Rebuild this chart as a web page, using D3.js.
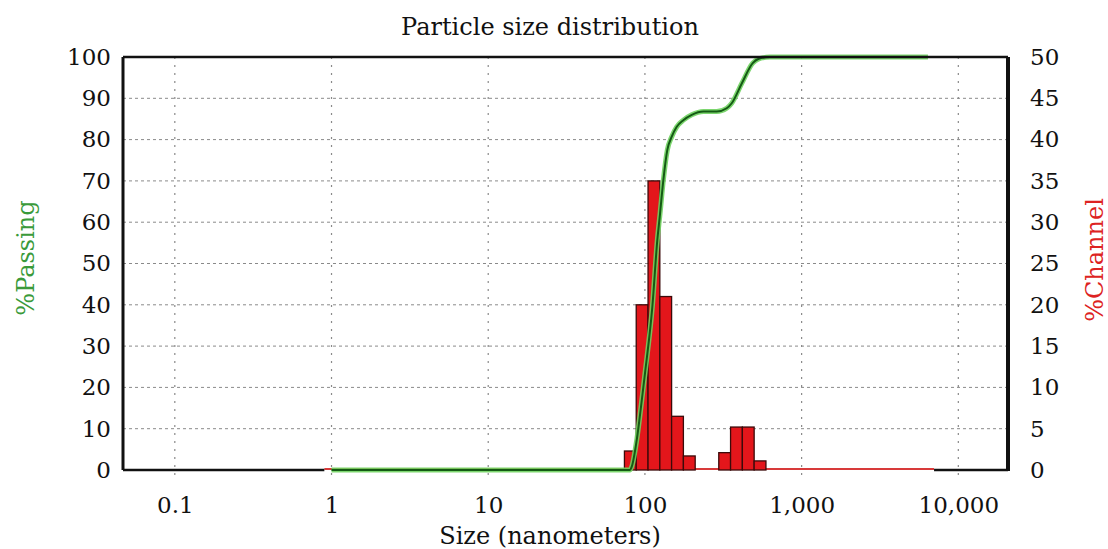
<!DOCTYPE html>
<html>
<head>
<meta charset="utf-8">
<script src="https://d3js.org/d3.v7.min.js"></script>
<style>
  body { margin: 0; background: #fff; }
  text { font-family: "DejaVu Serif", "Liberation Serif", serif; }
</style>
</head>
<body>
<script>
// channel edges (nm), Microtrac-style quarter-root-2 spacing
const binLo = [74.0, 88.0, 104.7, 124.5, 148.0, 176.0, 296.0, 352.0, 418.6, 497.8];
const binHi = [88.0, 104.7, 124.5, 148.0, 176.0, 209.3, 352.0, 418.6, 497.8, 592.0];
const channel = [2.3, 20.0, 35.0, 21.0, 6.5, 1.7, 2.1, 5.2, 5.2, 1.1];

// cumulative % passing
const passSize = [1.0, 80, 82.4, 88.7, 94.4, 100.1, 111.5, 120, 124.9, 131.1, 139, 148.3, 159.6,
                  175.8, 199, 236, 287, 332.5, 358, 415, 487.5, 529, 628, 6400];
const passing  = [0, 0, 0.8, 7.3, 15.3, 23.4, 39.5, 55.7, 62.1, 70.2, 77.5, 80.7, 83.1,
                  84.7, 86, 86.8, 86.8, 87.6, 88.8, 93.6, 98.5, 99.5, 100, 100];

const xTicks = [0.1, 1, 10, 100, 1000, 10000];
const leftTicks = d3.range(0, 101, 10);
const rightTicks = d3.range(0, 51, 5);

const width = 1108, height = 549;
const m = {left: 123, right: 100, top: 57, bottom: 79};

const svg = d3.select("body").append("svg")
    .attr("width", width)
    .attr("height", height);

const x = d3.scaleLog().domain([0.0467, 20750]).range([m.left, width - m.right]);
const yL = d3.scaleLinear().domain([0, 100]).range([height - m.bottom, m.top]);
const yR = d3.scaleLinear().domain([0, 50]).range([height - m.bottom, m.top]);

// grid
svg.append("g").selectAll("line")
    .data(leftTicks.slice(1, -1))
    .join("line")
    .attr("x1", m.left).attr("x2", width - m.right)
    .attr("y1", d => yL(d)).attr("y2", d => yL(d))
    .attr("stroke", "#8a8a8a").attr("stroke-width", 1)
    .attr("stroke-dasharray", "3,3");
svg.append("g").selectAll("line")
    .data(xTicks)
    .join("line")
    .attr("x1", d => x(d)).attr("x2", d => x(d))
    .attr("y1", m.top).attr("y2", height - m.bottom + 8)
    .attr("stroke", "#8a8a8a").attr("stroke-width", 1.2)
    .attr("stroke-dasharray", "2,6");

// channel zero baseline
svg.append("line")
    .attr("x1", x(0.9)).attr("x2", x(7000))
    .attr("y1", yR(0) - 1).attr("y2", yR(0) - 1)
    .attr("stroke", "#d83a3a").attr("stroke-width", 2);

// bars
svg.append("g").selectAll("rect")
    .data(channel)
    .join("rect")
    .attr("x", (d, i) => x(binLo[i]))
    .attr("width", (d, i) => x(binHi[i]) - x(binLo[i]))
    .attr("y", d => yR(d))
    .attr("height", d => yR(0) - yR(d))
    .attr("fill", "#e3161b")
    .attr("stroke", "#3b0a0a").attr("stroke-width", 1.3);

// passing curve
const pts = passSize.map((s, i) => [s, passing[i]]);
const line = d3.line()
    .x(d => x(d[0]))
    .y(d => yL(d[1]))
    .curve(d3.curveMonotoneX);
svg.append("path").datum(pts)
    .attr("d", line).attr("fill", "none")
    .attr("stroke", "#6fd25f").attr("stroke-width", 5).attr("opacity", 0.9);
svg.append("path").datum(pts)
    .attr("d", line).attr("fill", "none")
    .attr("stroke", "#145a14").attr("stroke-width", 2);

// frame
const fr = svg.append("g").attr("stroke", "#111").attr("fill", "none");
fr.append("line").attr("x1", m.left).attr("x2", width - m.right)
    .attr("y1", m.top).attr("y2", m.top).attr("stroke-width", 2.5);
fr.append("line").attr("x1", m.left).attr("x2", m.left)
    .attr("y1", m.top).attr("y2", height - m.bottom).attr("stroke-width", 3);
fr.append("line").attr("x1", width - m.right).attr("x2", width - m.right)
    .attr("y1", m.top).attr("y2", height - m.bottom + 1).attr("stroke-width", 4);
fr.append("line").attr("x1", m.left).attr("x2", x(0.9))
    .attr("y1", height - m.bottom).attr("y2", height - m.bottom).attr("stroke-width", 2.5);
fr.append("line").attr("x1", x(7000)).attr("x2", width - m.right)
    .attr("y1", height - m.bottom).attr("y2", height - m.bottom).attr("stroke-width", 2.5);

// axes
const fmt = d3.format(",");
const xAxis = svg.append("g")
    .attr("transform", `translate(0,${height - m.bottom})`)
    .call(d3.axisBottom(x).tickValues(xTicks).tickFormat(d => fmt(d)).tickSize(0).tickPadding(27));
const lAxis = svg.append("g")
    .attr("transform", `translate(${m.left},0)`)
    .call(d3.axisLeft(yL).tickValues(leftTicks).tickSize(0).tickPadding(12));
const rAxis = svg.append("g")
    .attr("transform", `translate(${width - m.right},0)`)
    .call(d3.axisRight(yR).tickValues(rightTicks).tickSize(0).tickPadding(22));
[xAxis, lAxis, rAxis].forEach(a => {
  a.select(".domain").remove();
  a.selectAll("text").attr("font-size", 23).attr("fill", "#111")
    .attr("font-family", "DejaVu Serif");
});

// titles
svg.append("text").attr("x", 550).attr("y", 35)
    .attr("text-anchor", "middle").attr("font-size", 24).attr("fill", "#111")
    .text("Particle size distribution");
svg.append("text").attr("x", 550).attr("y", 544)
    .attr("text-anchor", "middle").attr("font-size", 24).attr("fill", "#111")
    .text("Size (nanometers)");
svg.append("text")
    .attr("transform", `translate(34,258) rotate(-90)`)
    .attr("text-anchor", "middle").attr("font-size", 24).attr("fill", "#3a9a3a")
    .text("%Passing");
svg.append("text")
    .attr("transform", `translate(1103,260) rotate(-90)`)
    .attr("text-anchor", "middle").attr("font-size", 24).attr("fill", "#dd2222")
    .text("%Channel");
</script>
</body>
</html>
